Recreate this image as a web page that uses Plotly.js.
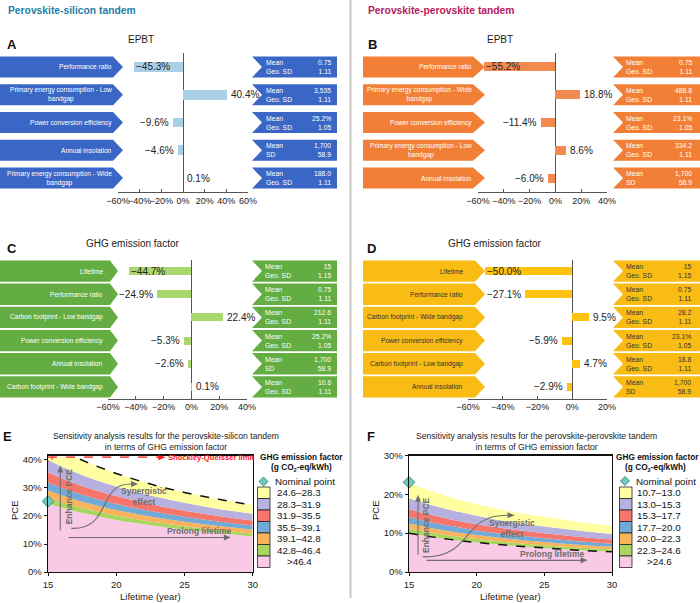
<!DOCTYPE html>
<html>
<head>
<meta charset="utf-8">
<script src="https://cdn.plot.ly/plotly-3.0.1.min.js"></script>
<style>html,body{margin:0;padding:0;background:#fff;overflow:hidden}#chart{width:700px;height:603px}</style>
</head>
<body>
<div id="chart"></div>
<script>
// ================= DATA =================
// Panel A: EPBT, perovskite-silicon tandem
const epbtSiFactors = ["Performance ratio", "Primary energy consumption - Low<br>bandgap", "Power conversion efficiency", "Annual insolation", "Primary energy consumption - Wide<br>bandgap"];
const epbtSiChange = [-45.3, 40.4, -9.6, -4.6, 0.1];
const epbtSiMean = ["0.75", "3,535", "25.2%", "1,700", "188.0"];
const epbtSiSpreadName = ["Geo. SD", "Geo. SD", "Geo. SD", "SD", "Geo. SD"];
const epbtSiSpread = ["1.11", "1.11", "1.05", "58.9", "1.11"];

// Panel B: EPBT, perovskite-perovskite tandem
const epbtPkFactors = ["Performance ratio", "Primary energy consumption - Wide<br>bandgap", "Power conversion efficiency", "Primary energy consumption - Low<br>bandgap", "Annual insolation"];
const epbtPkChange = [-55.2, 18.8, -11.4, 8.6, -6.0];
const epbtPkMean = ["0.75", "488.8", "23.1%", "334.2", "1,700"];
const epbtPkSpreadName = ["Geo. SD", "Geo. SD", "Geo. SD", "Geo. SD", "SD"];
const epbtPkSpread = ["1.11", "1.11", "1.05", "1.11", "58.9"];

// Panel C: GHG emission factor, perovskite-silicon tandem
const ghgSiFactors = ["Lifetime", "Performance ratio", "Carbon footprint - Low bandgap", "Power conversion efficiency", "Annual insolation", "Carbon footprint - Wide bandgap"];
const ghgSiChange = [-44.7, -24.9, 22.4, -5.3, -2.6, 0.1];
const ghgSiMean = ["15", "0.75", "212.6", "25.2%", "1,700", "10.6"];
const ghgSiSpreadName = ["Geo. SD", "Geo. SD", "Geo. SD", "Geo. SD", "SD", "Geo. SD"];
const ghgSiSpread = ["1.15", "1.11", "1.11", "1.05", "58.9", "1.11"];

// Panel D: GHG emission factor, perovskite-perovskite tandem
const ghgPkFactors = ["Lifetime", "Performance ratio", "Carbon footprint - Wide bandgap", "Power conversion efficiency", "Carbon footprint - Low bandgap", "Annual insolation"];
const ghgPkChange = [-50.0, -27.1, 9.5, -5.9, 4.7, -2.9];
const ghgPkMean = ["15", "0.75", "28.2", "23.1%", "18.8", "1,700"];
const ghgPkSpreadName = ["Geo. SD", "Geo. SD", "Geo. SD", "Geo. SD", "Geo. SD", "SD"];
const ghgPkSpread = ["1.15", "1.11", "1.11", "1.05", "1.11", "58.9"];

// Panels E/F: PCE boundaries (%) of each GHG band vs lifetime (years)
const lifetimeYears = [15, 16, 17, 18, 20, 22.5, 25, 27.5, 30];

// E: perovskite-silicon (boundary at given g CO2-eq/kWh)
const siPce464 = [24.5, 23.0, 21.7, 20.6, 18.6, 16.7, 15.1, 13.8, 12.7];
const siPce428 = [26.5, 24.9, 23.5, 22.3, 20.2, 18.0, 16.3, 14.9, 13.7];
const siPce391 = [29.1, 27.4, 25.8, 24.5, 22.1, 19.8, 17.9, 16.4, 15.1];
const siPce355 = [32.0, 30.1, 28.4, 26.9, 24.3, 21.8, 19.7, 18.0, 16.6];
const siPce319 = [35.6, 33.5, 31.6, 29.9, 27.1, 24.2, 21.9, 20.0, 18.4];
const siPce283 = [40.1, 37.7, 35.6, 33.7, 30.5, 27.3, 24.7, 22.5, 20.8];
const siPce246 = [46.2, 43.5, 41.0, 38.9, 35.2, 31.4, 28.4, 26.0, 23.9];
const siYellowTop = [41.0, 41.0, 41.0, 38.9, 35.2, 31.4, 28.4, 26.0, 23.9];
const siSQLimit = 41.0;
const siNominal = {lifetime: 15, pce: 25.2};
const siRanges = ["24.6–28.3", "28.3–31.9", "31.9–35.5", "35.5–39.1", "39.1–42.8", "42.8–46.4", ">46.4"];

// F: perovskite-perovskite
const pkPce107 = [23.0, 21.6, 20.4, 19.3, 17.5, 15.6, 14.2, 12.9, 11.9];
const pkPce130 = [19.0, 17.9, 16.9, 16.0, 14.5, 12.9, 11.7, 10.7, 9.8];
const pkPce153 = [16.2, 15.2, 14.4, 13.6, 12.3, 11.0, 10.0, 9.1, 8.4];
const pkPce177 = [14.1, 13.3, 12.5, 11.9, 10.7, 9.6, 8.7, 7.9, 7.3];
const pkPce200 = [12.5, 11.8, 11.1, 10.5, 9.5, 8.5, 7.7, 7.0, 6.5];
const pkPce223 = [11.2, 10.5, 9.9, 9.4, 8.5, 7.6, 6.9, 6.3, 5.8];
const pkPce246 = [10.0, 9.4, 8.9, 8.4, 7.6, 6.8, 6.2, 5.6, 5.2];
const pkNominal = {lifetime: 15, pce: 23.1};
const pkRanges = ["10.7–13.0", "13.0–15.3", "15.3–17.7", "17.7–20.0", "20.0–22.3", "22.3–24.6", ">24.6"];

// ================= HELPERS =================
const W = 700, H = 603;
const FONT = 'Arial, "Liberation Sans", Helvetica, sans-serif';
const px = v => v / W;
const py = v => 1 - v / H;
const P = (x, y) => px(x).toFixed(5) + ',' + py(y).toFixed(5);

const traces = [], shapes = [], annotations = [];
const layout = {
  width: W, height: H, autosize: false,
  margin: {l: 0, r: 0, t: 0, b: 0, pad: 0, autoexpand: false},
  paper_bgcolor: '#fff', plot_bgcolor: 'rgba(0,0,0,0)',
  font: {family: FONT, size: 10, color: '#222'},
  showlegend: false,
  bargap: 0
};

function txt(x, y, text, font, extra) {
  annotations.push(Object.assign({
    xref: 'paper', yref: 'paper', x: px(x), y: py(y), text: text, showarrow: false,
    xanchor: 'center', yanchor: 'middle', borderpad: 0,
    font: Object.assign({family: FONT, size: 10, color: '#222'}, font || {})
  }, extra || {}));
}

function pctLabel(v) {
  return (v < 0 ? '−' : '') + Math.abs(v).toFixed(1) + '%';
}

function tornado(o) {
  const n = o.factors.length;
  const xr = 'x' + o.id, yr = 'y' + o.id;
  const rows = o.factors.map((_, i) => i);
  traces.push({
    type: 'bar', orientation: 'h', x: o.change, y: rows, xaxis: xr, yaxis: yr,
    width: o.barW, marker: {color: o.barColor, line: {width: 0}}, hoverinfo: 'skip'
  });
  layout['xaxis' + o.id] = {
    domain: [px(o.xPx[0]), px(o.xPx[1])], range: o.range, anchor: yr,
    showgrid: false, zeroline: true, zerolinecolor: '#555', zerolinewidth: 1,
    showline: true, linecolor: '#555', linewidth: 1, automargin: false,
    ticks: 'inside', ticklen: 3, tickcolor: '#555', tickmode: 'linear', tick0: 0, dtick: 20, ticksuffix: '%',
    tickangle: 0, tickfont: {family: FONT, size: 9, color: '#222'}, fixedrange: true
  };
  layout['yaxis' + o.id] = {
    domain: [py(o.yPx[1]), py(o.yPx[0])], range: [n - 0.5, -0.5], anchor: xr,
    visible: false, showgrid: false, zeroline: false, fixedrange: true, automargin: false
  };
  const rowH = (o.yPx[1] - o.yPx[0]) / n;
  const L = o.left, R = o.right;
  for (let i = 0; i < n; i++) {
    const yc = o.yPx[0] + (i + 0.5) * rowH, yt = yc - o.boxH / 2, yb = yc + o.boxH / 2;
    shapes.push({type: 'path', xref: 'paper', yref: 'paper', fillcolor: o.boxColor, line: {width: 0},
      path: `M${P(L.x0, yt)} L${P(L.x1, yt)} L${P(L.tip, yc)} L${P(L.x1, yb)} L${P(L.x0, yb)} Z`});
    shapes.push({type: 'path', xref: 'paper', yref: 'paper', fillcolor: o.boxColor, line: {width: 0},
      path: `M${P(R.x0, yt)} L${P(R.x1, yt)} L${P(R.x1, yb)} L${P(R.x0, yb)} L${P(R.notch, yc)} Z`});
    txt(L.textX, yc, o.factors[i], {size: 6.6, color: o.textColor}, {xanchor: 'right', align: 'center'});
    txt(R.nameX, yc, 'Mean<br>' + o.spreadName[i], {size: 6.8, color: o.textColor}, {xanchor: 'left', align: 'left'});
    txt(R.valX, yc, o.mean[i] + '<br>' + o.spread[i], {size: 6.8, color: o.textColor}, {xanchor: 'right', align: 'right'});
    // value labels
    const v = o.change[i];
    let xanchor = 'left', xshift = 3;
    if (v < -40) { xanchor = 'left'; xshift = 1; }
    else if (v < 0) { xanchor = 'right'; xshift = -3; }
    annotations.push({xref: xr, yref: yr, x: v, y: i, text: pctLabel(v), showarrow: false,
      xanchor: xanchor, yanchor: 'middle', xshift: xshift, borderpad: 0,
      font: {family: FONT, size: 10, color: '#222'}});
  }
}

// ================= PANELS A-D =================
tornado({id: '', factors: epbtSiFactors, change: epbtSiChange, mean: epbtSiMean, spreadName: epbtSiSpreadName, spread: epbtSiSpread,
  xPx: [118, 248], yPx: [53, 192], range: [-60, 60], barW: 0.35, boxH: 21,
  barColor: '#a8d0e6', boxColor: '#3a67c5', textColor: '#ffffff',
  left: {x0: 0, x1: 113, tip: 123, textX: 113}, right: {x0: 252, notch: 262, x1: 337, nameX: 265, valX: 332}});

tornado({id: '2', factors: epbtPkFactors, change: epbtPkChange, mean: epbtPkMean, spreadName: epbtPkSpreadName, spread: epbtPkSpread,
  xPx: [478, 607], yPx: [53, 192], range: [-60, 40], barW: 0.32, boxH: 21,
  barColor: '#f38b50', boxColor: '#f27f36', textColor: '#ffffff',
  left: {x0: 363, x1: 473, tip: 485, textX: 473}, right: {x0: 613, notch: 623, x1: 700, nameX: 625, valX: 693}});

tornado({id: '3', factors: ghgSiFactors, change: ghgSiChange, mean: ghgSiMean, spreadName: ghgSiSpreadName, spread: ghgSiSpread,
  xPx: [108, 247], yPx: [259.5, 398.5], range: [-60, 40], barW: 0.34, boxH: 21.3,
  barColor: '#a9d86e', boxColor: '#63ad42', textColor: '#ffffff',
  left: {x0: 0, x1: 110, tip: 118, textX: 104}, right: {x0: 252, notch: 262, x1: 337, nameX: 264, valX: 332}});

tornado({id: '4', factors: ghgPkFactors, change: ghgPkChange, mean: ghgPkMean, spreadName: ghgPkSpreadName, spread: ghgPkSpread,
  xPx: [468, 607], yPx: [259.5, 398.5], range: [-60, 20], barW: 0.34, boxH: 21.3,
  barColor: '#ffc20e', boxColor: '#f8bc14', textColor: '#333333',
  left: {x0: 363, x1: 475, tip: 485, textX: 464}, right: {x0: 613, notch: 623, x1: 700, nameX: 625, valX: 692}});

// ================= PANELS E-F =================
const bandColors = ['#f9c9e6', '#a8d65f', '#fbb25d', '#72aad7', '#f6766b', '#b7b1df', '#ffffa1'];

function bands(id, boundaries, topShapes) {
  boundaries.forEach((ys, k) => {
    traces.push({type: 'scatter', mode: 'lines', x: lifetimeYears, y: ys, xaxis: 'x' + id, yaxis: 'y' + id,
      fill: k === 0 ? 'tozeroy' : 'tonexty', fillcolor: bandColors[k],
      line: {width: 0, shape: topShapes[k]}, hoverinfo: 'skip'});
  });
}

function pceAxes(id, xPx, range) {
  layout['xaxis' + id] = {
    domain: [px(xPx[0]), px(xPx[1])], range: [15, 30], anchor: 'y' + id, tickmode: 'linear', tick0: 15, dtick: 5,
    ticks: 'outside', ticklen: 3, tickcolor: '#111', showline: true, mirror: true, linecolor: '#111', linewidth: 1.3,
    showgrid: false, zeroline: false, tickangle: 0, tickfont: {family: FONT, size: 9.5, color: '#222'}, fixedrange: true, automargin: false
  };
  layout['yaxis' + id] = {
    domain: [py(572), py(455.5)], range: range, anchor: 'x' + id, tickmode: 'linear', tick0: 0, dtick: 10, ticksuffix: '%',
    ticks: 'outside', ticklen: 3, tickcolor: '#111', showline: true, mirror: true, linecolor: '#111', linewidth: 1.3,
    showgrid: false, zeroline: false, tickangle: 0, tickfont: {family: FONT, size: 9.5, color: '#222'}, fixedrange: true, automargin: false
  };
  // axis titles, placed as figure text
  txt((xPx[0] + xPx[1]) / 2, 596, 'Lifetime (year)', {size: 9.5});
  txt(xPx[0] - 34, 510, 'PCE', {size: 9.5}, {textangle: -90});
}

// E
pceAxes('5', [48, 252.7], [0, 41.6]);
bands('5', [siPce464, siPce428, siPce391, siPce355, siPce319, siPce283, siYellowTop],
  ['spline', 'spline', 'spline', 'spline', 'spline', 'spline', 'linear']);
traces.push({type: 'scatter', mode: 'lines', x: lifetimeYears, y: siPce246, xaxis: 'x5', yaxis: 'y5',
  line: {color: '#111', width: 1.5, dash: 'dash', shape: 'spline'}, hoverinfo: 'skip'});
traces.push({type: 'scatter', mode: 'markers', x: [siNominal.lifetime], y: [siNominal.pce], xaxis: 'x5', yaxis: 'y5', cliponaxis: false,
  marker: {symbol: 'diamond', size: 9, color: '#6ccbbd', line: {color: '#3b8f85', width: 1}}, hoverinfo: 'skip'});

// F
pceAxes('6', [409, 612], [0, 30]);
bands('6', [pkPce246, pkPce223, pkPce200, pkPce177, pkPce153, pkPce130, pkPce107],
  ['spline', 'spline', 'spline', 'spline', 'spline', 'spline', 'spline']);
traces.push({type: 'scatter', mode: 'lines', x: lifetimeYears, y: pkPce246, xaxis: 'x6', yaxis: 'y6',
  line: {color: '#111', width: 1.5, dash: 'dash', shape: 'spline'}, hoverinfo: 'skip'});
traces.push({type: 'scatter', mode: 'markers', x: [pkNominal.lifetime], y: [pkNominal.pce], xaxis: 'x6', yaxis: 'y6', cliponaxis: false,
  marker: {symbol: 'diamond', size: 9, color: '#6ccbbd', line: {color: '#3b8f85', width: 1}}, hoverinfo: 'skip'});

// Arrows / notes inside E and F (drawn as shapes)
const GRAY = '#6e6e6e';
const HEADS = {
  up: 'M0,0 L-3,-7 L3,-7 Z',
  right: 'M0,0 L-7,3 L-7,-3 Z'
};
function head(id, x, y, dir, color) {
  shapes.push({type: 'path', xref: 'x' + id, yref: 'y' + id, xsizemode: 'pixel', ysizemode: 'pixel',
    xanchor: x, yanchor: y, path: HEADS[dir], fillcolor: color || GRAY, line: {width: 0}});
}
function seg(id, x0, y0, x1, y1, color, w, dash) {
  shapes.push({type: 'line', xref: 'x' + id, yref: 'y' + id, x0: x0, y0: y0, x1: x1, y1: y1,
    line: {color: color || GRAY, width: w || 1.1, dash: dash || 'solid'}});
}
function note(id, x, y, text, font, extra) {
  annotations.push(Object.assign({xref: 'x' + id, yref: 'y' + id, x: x, y: y, text: text, showarrow: false,
    xanchor: 'center', yanchor: 'middle', borderpad: 0,
    font: Object.assign({family: FONT, size: 8.5, color: GRAY}, font || {})}, extra || {}));
}

// E notes
seg('5', 15, siSQLimit, 23.2, siSQLimit, '#ff1a1a', 1.2, 'dash');
head('5', 23.6, siSQLimit, 'right', '#ff1a1a');
note('5', 23.7, siSQLimit, '<b>Shockley-Queisser limit</b>', {size: 7.6, color: '#ff1a1a'}, {xanchor: 'left'});
shapes.push({type: 'circle', xref: 'x5', yref: 'y5', xsizemode: 'pixel', ysizemode: 'pixel',
  xanchor: 15, yanchor: siSQLimit, x0: -4.5, x1: 4.5, y0: -4.5, y1: 4.5,
  line: {color: '#ff1a1a', width: 1, dash: 'dot'}});
seg('5', 15.9, 14.8, 15.9, 36.5);
head('5', 15.9, 38.0, 'up');
note('5', 16.5, 27.2, '<b>Enhance PCE</b>', {}, {textangle: -90});
seg('5', 16.5, 12.3, 28.0, 12.3);
head('5', 28.4, 12.3, 'right');
note('5', 26.1, 14.6, '<b>Prolong lifetime</b>');
shapes.push({type: 'path', xref: 'x5', yref: 'y5', path: 'M16.7,15.6 C19.7,15.0 18.6,31.8 21.1,31.4',
  line: {color: GRAY, width: 1.1}});
head('5', 21.6, 31.4, 'right');
note('5', 22.0, 27.0, '<b>Synergistic<br>effect</b>');

// F notes
seg('6', 15.67, 4.4, 15.67, 18.5);
head('6', 15.67, 19.9, 'up');
note('6', 16.3, 12.0, '<b>Enhance PCE</b>', {}, {textangle: -90});
seg('6', 16.3, 3.0, 27.8, 3.0);
head('6', 28.2, 3.0, 'right');
note('6', 25.6, 4.7, '<b>Prolong lifetime</b>');
shapes.push({type: 'path', xref: 'x6', yref: 'y6', path: 'M16.0,3.9 C19.8,3.6 18.8,14.8 22.3,14.6',
  line: {color: GRAY, width: 1.1}});
head('6', 22.8, 14.6, 'right');
note('6', 22.6, 11.1, '<b>Synergistic<br>effect</b>');

// Legends for E and F
function ghgLegend(o) {
  txt(o.titleX, o.titleY, '<b>GHG emission factor</b>', {size: 8.3, color: '#111'});
  txt(o.subX, o.subY, '<b>(g CO<sub>2</sub>-eq/kWh)</b>', {size: 8.3, color: '#111'});
  const dx = o.diamondX, dy = o.diamondY, d = 4.5;
  shapes.push({type: 'path', xref: 'paper', yref: 'paper', fillcolor: '#6ccbbd', line: {color: '#3b8f85', width: 1},
    path: `M${P(dx, dy - d)} L${P(dx + d, dy)} L${P(dx, dy + d)} L${P(dx - d, dy)} Z`});
  txt(o.nominalX, dy, 'Nominal point', {size: 9.8, color: '#111'}, {xanchor: 'left'});
  const colorsTopDown = bandColors.slice().reverse();
  o.ranges.forEach((r, k) => {
    const t = o.top + k * o.rowH;
    shapes.push({type: 'rect', xref: 'paper', yref: 'paper', x0: px(o.boxX0), x1: px(o.boxX1), y0: py(t + o.rowH), y1: py(t),
      fillcolor: colorsTopDown[k], line: {color: '#222', width: 0.8}});
    txt(o.labelX, t + o.rowH / 2, r, {size: 9.8, color: '#111'});
  });
}
ghgLegend({ranges: siRanges, titleX: 301, titleY: 456.5, subX: 301, subY: 467.5, diamondX: 263.5, diamondY: 481.5,
  nominalX: 274, boxX0: 257.5, boxX1: 270, top: 487, rowH: 11.5, labelX: 299});
ghgLegend({ranges: pkRanges, titleX: 657, titleY: 457, subX: 655, subY: 467.5, diamondX: 625, diamondY: 481,
  nominalX: 635, boxX0: 619.5, boxX1: 632, top: 487, rowH: 11.5, labelX: 659});

// ================= HEADINGS & TITLES =================
txt(7, 10, '<b>Perovskite-silicon tandem</b>', {size: 10.3, color: '#1f7fa8'}, {xanchor: 'left'});
txt(367, 10, '<b>Perovskite-perovskite tandem</b>', {size: 10.3, color: '#b81a5e'}, {xanchor: 'left'});
shapes.push({type: 'line', xref: 'paper', yref: 'paper', x0: px(350.5), x1: px(350.5), y0: py(0), y1: py(598),
  line: {color: '#c8c8c8', width: 2}});

txt(6, 44, '<b>A</b>', {size: 13, color: '#111'}, {xanchor: 'left'});
txt(367, 44, '<b>B</b>', {size: 13, color: '#111'}, {xanchor: 'left'});
txt(6, 248, '<b>C</b>', {size: 13, color: '#111'}, {xanchor: 'left'});
txt(366, 248, '<b>D</b>', {size: 13, color: '#111'}, {xanchor: 'left'});
txt(2, 436, '<b>E</b>', {size: 13, color: '#111'}, {xanchor: 'left'});
txt(366, 436, '<b>F</b>', {size: 13, color: '#111'}, {xanchor: 'left'});

txt(141, 39, 'EPBT', {size: 10});
txt(500, 39, 'EPBT', {size: 10});
txt(132, 244, 'GHG emission factor', {size: 10});
txt(494, 244, 'GHG emission factor', {size: 10});
txt(166, 441, 'Sensitivity analysis results for the perovskite-silicon tandem<br>in terms of GHG emission factor', {size: 8.6});
txt(536, 441, 'Sensitivity analysis results for the perovskite-perovskite tandem<br>in terms of GHG emission factor', {size: 8.6});

layout.shapes = shapes;
layout.annotations = annotations;

Plotly.newPlot('chart', traces, layout, {displayModeBar: false, staticPlot: true});
</script>
</body>
</html>
